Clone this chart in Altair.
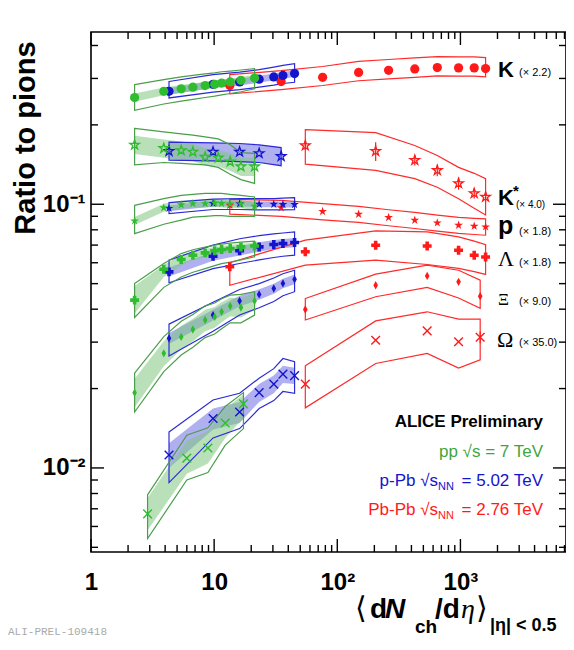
import altair as alt
import pandas as pd

# ---------------- data (ratios to pions, already scaled) ----------------
PP_X = [2.26, 3.90, 5.40, 6.72, 8.45, 10.1, 11.5, 13.5, 16.5, 21.3]
PPB_X = [4.3, 9.8, 16.1, 23.2, 30.5, 36.2, 45.0]
PBPB_X = [13.4, 35, 76, 149, 261, 426, 649, 966, 1294, 1601]

# K (x2.2)
K_PP = [0.254, 0.268, 0.274, 0.278, 0.282, 0.285, 0.288, 0.291, 0.295, 0.301]
K_PP_HI = [0.284, 0.297, 0.304, 0.308, 0.312, 0.315, 0.318, 0.320, 0.323, 0.327]
K_PP_LO = [0.227, 0.240, 0.246, 0.250, 0.254, 0.257, 0.260, 0.263, 0.267, 0.274]
K_PP_BHI = [0.263, 0.277, 0.283, 0.287, 0.291, 0.294, 0.297, 0.300, 0.304, 0.310]
K_PP_BLO = [0.245, 0.259, 0.265, 0.269, 0.273, 0.276, 0.279, 0.282, 0.286, 0.292]
K_PPB = [0.268, 0.285, 0.291, 0.298, 0.304, 0.308, 0.313]
K_PPB_HI = [0.292, 0.310, 0.317, 0.324, 0.331, 0.336, 0.341]
K_PPB_LO = [0.253, 0.266, 0.272, 0.278, 0.283, 0.287, 0.290]
K_PPB_BHI = [0.276, 0.294, 0.300, 0.307, 0.313, 0.317, 0.322]
K_PPB_BLO = [0.260, 0.276, 0.282, 0.289, 0.295, 0.299, 0.304]
K_PBPB = [0.282, 0.292, 0.303, 0.316, 0.322, 0.326, 0.330, 0.329, 0.329, 0.327]
K_PBPB_HI = [0.310, 0.321, 0.333, 0.348, 0.354, 0.359, 0.363, 0.362, 0.362, 0.360]
K_PBPB_LO = [0.262, 0.272, 0.282, 0.294, 0.299, 0.303, 0.307, 0.306, 0.306, 0.304]

# K* (x4.0)
KS_PP_X = [2.26, 3.90, 5.40, 6.72, 8.45, 10.8, 13.5, 16.5, 21.3]
KS_PP = [0.168, 0.163, 0.160, 0.158, 0.151, 0.150, 0.145, 0.139, 0.139]
KS_PP_HI = [0.194, 0.188, 0.185, 0.183, 0.180, 0.177, 0.168, 0.157, 0.156]
KS_PP_LO = [0.141, 0.144, 0.143, 0.142, 0.141, 0.138, 0.130, 0.124, 0.120]
KS_PP_BHI = [0.182, 0.176, 0.173, 0.170, 0.163, 0.161, 0.156, 0.150, 0.150]
KS_PP_BLO = [0.155, 0.150, 0.147, 0.146, 0.140, 0.139, 0.134, 0.128, 0.128]
KS_PPB_X = [4.3, 9.8, 16.1, 23.2, 35.0]
KS_PPB = [0.159, 0.158, 0.158, 0.156, 0.152]
KS_PPB_HI = [0.172, 0.171, 0.170, 0.168, 0.164]
KS_PPB_LO = [0.147, 0.146, 0.145, 0.144, 0.140]
KS_PBPB_X = [55, 205, 426, 649, 966, 1294, 1601]
KS_PBPB = [0.167, 0.159, 0.147, 0.1345, 0.120, 0.110, 0.1066]
KS_PBPB_HI = [0.192, 0.187, 0.167, 0.153, 0.138, 0.131, 0.125]
KS_PBPB_LO = [0.142, 0.1345, 0.125, 0.116, 0.105, 0.0965, 0.091]
KS_PBPB_STAT = [0.0065, 0.013, 0.0066, 0.0067, 0.0065, 0.0048, 0.0047]

# p (x1.8)
P_PP = [0.0865, 0.0970, 0.0996, 0.1006, 0.1006, 0.1011, 0.1007, 0.1003, 0.1002, 0.0983]
P_PP_HI = [0.099, 0.105, 0.108, 0.109, 0.110, 0.110, 0.110, 0.109, 0.108, 0.1066]
P_PP_LO = [0.0774, 0.084, 0.087, 0.0893, 0.090, 0.0905, 0.0905, 0.090, 0.090, 0.090]
P_PP_BHI = [0.0895, 0.1004, 0.1031, 0.1041, 0.1041, 0.1046, 0.1042, 0.1038, 0.1037, 0.1017]
P_PP_BLO = [0.0835, 0.0936, 0.0961, 0.0971, 0.0971, 0.0976, 0.0972, 0.0968, 0.0967, 0.0949]
P_PPB = [0.0965, 0.1008, 0.1005, 0.1000, 0.1000, 0.0998, 0.0998]
P_PPB_HI = [0.1015, 0.1045, 0.105, 0.105, 0.105, 0.1055, 0.106]
P_PPB_LO = [0.0922, 0.0955, 0.0955, 0.0952, 0.0952, 0.0952, 0.0953]
P_PPB_BHI = [0.0990, 0.1035, 0.1030, 0.1025, 0.1025, 0.1023, 0.1023]
P_PPB_BLO = [0.0940, 0.0981, 0.0980, 0.0975, 0.0975, 0.0973, 0.0973]
P_PBPB = [0.0991, 0.0970, 0.0939, 0.0917, 0.0891, 0.0870, 0.0850, 0.0833, 0.0826, 0.0821]
P_PBPB_HI = [0.1044, 0.1035, 0.1005, 0.0981, 0.0953, 0.0931, 0.0910, 0.0891, 0.0884, 0.0880]
P_PBPB_LO = [0.0917, 0.0900, 0.0872, 0.0853, 0.0829, 0.0809, 0.0791, 0.0775, 0.0768, 0.0763]

# Lambda (x1.8)
L_PP = [0.0433, 0.0567, 0.0617, 0.0641, 0.0654, 0.0666, 0.0674, 0.0680, 0.0689, 0.0695]
L_PP_HI = [0.0501, 0.0596, 0.0650, 0.0672, 0.0688, 0.0700, 0.0706, 0.0712, 0.0718, 0.0725]
L_PP_LO = [0.0372, 0.0484, 0.0530, 0.0552, 0.0570, 0.0585, 0.0595, 0.0603, 0.0615, 0.0632]
L_PP_BHI = [0.0490, 0.0590, 0.0640, 0.0662, 0.0676, 0.0688, 0.0695, 0.0700, 0.0708, 0.0714]
L_PP_BLO = [0.0385, 0.0530, 0.0585, 0.0614, 0.0628, 0.0641, 0.0650, 0.0657, 0.0667, 0.0674]
L_PPB = [0.0554, 0.0635, 0.0666, 0.0689, 0.0704, 0.0710, 0.0716]
L_PPB_HI = [0.0614, 0.0700, 0.0740, 0.0760, 0.0772, 0.0778, 0.0785]
L_PPB_LO = [0.0504, 0.0570, 0.0596, 0.0615, 0.0628, 0.0635, 0.0641]
L_PPB_BHI = [0.0576, 0.0660, 0.0693, 0.0717, 0.0732, 0.0738, 0.0745]
L_PPB_BLO = [0.0532, 0.0610, 0.0639, 0.0661, 0.0676, 0.0682, 0.0687]
L_PBPB_X = [13.4, 55, 205, 537, 966, 1294, 1601]
L_PBPB = [0.0579, 0.0660, 0.0699, 0.0695, 0.0669, 0.0641, 0.0631]
L_PBPB_HI = [0.0600, 0.0731, 0.0793, 0.0786, 0.0752, 0.0725, 0.0703]
L_PBPB_LO = [0.0493, 0.0588, 0.0614, 0.0591, 0.0571, 0.0555, 0.0542]

# Xi (x9.0)
XI_PP = [0.0193, 0.0272, 0.0314, 0.0335, 0.0364, 0.0374, 0.0391, 0.0411, 0.0406, 0.0430]
XI_PP_HI = [0.0229, 0.0315, 0.0360, 0.0382, 0.0412, 0.0422, 0.0438, 0.0452, 0.0455, 0.0466]
XI_PP_LO = [0.0163, 0.0232, 0.0268, 0.0287, 0.0312, 0.0322, 0.0337, 0.0355, 0.0355, 0.0380]
XI_PP_BHI = [0.0218, 0.0302, 0.0346, 0.0368, 0.0398, 0.0408, 0.0425, 0.0442, 0.0440, 0.0460]
XI_PP_BLO = [0.0170, 0.0243, 0.0282, 0.0302, 0.0330, 0.0340, 0.0357, 0.0376, 0.0372, 0.0397]
XI_PPB = [0.0310, 0.0380, 0.0430, 0.0455, 0.0479, 0.0501, 0.0519]
XI_PPB_HI = [0.0351, 0.0425, 0.0475, 0.0500, 0.0525, 0.0545, 0.0562]
XI_PPB_LO = [0.0266, 0.0330, 0.0380, 0.0405, 0.0428, 0.0450, 0.0466]
XI_PPB_BHI = [0.0325, 0.0398, 0.0450, 0.0476, 0.0500, 0.0522, 0.0541]
XI_PPB_BLO = [0.0295, 0.0362, 0.0410, 0.0434, 0.0458, 0.0480, 0.0497]
XI_PBPB_X = [55, 205, 537, 966, 1447]
XI_PBPB = [0.0399, 0.0493, 0.0535, 0.0508, 0.0448]
XI_PBPB_HI = [0.0439, 0.0543, 0.0588, 0.0562, 0.0515]
XI_PBPB_LO = [0.0364, 0.0446, 0.0484, 0.0441, 0.0403]

# Omega (x35.0)
OM_PP_X = [2.88, 6.0, 8.9, 12.3, 17.3]
OM_PP = [0.0067, 0.0109, 0.0119, 0.0148, 0.0175]
OM_PP_HI = [0.0079, 0.0133, 0.0142, 0.0171, 0.0193]
OM_PP_LO = [0.0054, 0.0090, 0.0096, 0.0122, 0.0141]
OM_PP_BHI = [0.0077, 0.0127, 0.0138, 0.0168, 0.0190]
OM_PP_BLO = [0.0058, 0.0095, 0.0104, 0.0130, 0.0155]
OM_PPB = [0.0112, 0.0154, 0.0163, 0.0193, 0.0208, 0.0227, 0.0224]
OM_PPB_HI = [0.0137, 0.0181, 0.0192, 0.0219, 0.0238, 0.0260, 0.0253]
OM_PPB_LO = [0.0088, 0.0130, 0.0141, 0.0168, 0.0180, 0.0195, 0.0192]
OM_PPB_BHI = [0.0124, 0.0168, 0.0178, 0.0208, 0.0224, 0.0244, 0.0240]
OM_PPB_BLO = [0.0100, 0.0140, 0.0148, 0.0178, 0.0192, 0.0210, 0.0208]
OM_PBPB_X = [55, 205, 537, 966, 1447]
OM_PBPB = [0.0208, 0.0305, 0.0331, 0.0301, 0.0313]
OM_PBPB_HI = [0.0244, 0.0361, 0.0391, 0.0367, 0.0367]
OM_PBPB_LO = [0.0169, 0.0249, 0.0272, 0.0239, 0.0257]
OM_PBPB_STAT = [0.0, 0.0, 0.0, 0.0, 0.0016]

# axis ticks / labels
X_MAJOR = [1, 10, 100, 1000]
X_MINOR = [m * 10 ** e for e in range(4) for m in range(2, 10) if m * 10 ** e <= 7000]
Y_MAJOR = [0.01, 0.1]
Y_MINOR = [0.005, 0.006, 0.007, 0.008, 0.009, 0.02, 0.03, 0.04, 0.05, 0.06, 0.07,
           0.08, 0.09, 0.2, 0.3, 0.4]

SYSTEMS = ["PbPb", "pPb", "pp"]
MARK_COL = ["#ff1a1a", "#1414cc", "#2ebd2e"]
BOX_COL = ["#ff2a2a", "#2a2ad8", "#4a9e4a"]
BAND_COL = ["#ffffff", "#7070e6", "#80c680"]

W, H = 475, 520
FONT = "Liberation Sans"

# ---------------- build tables ----------------
pts = {}
boxes = []
bands = []
errs = []


def add(species, system, xs, ys, lo, hi, blo=None, bhi=None, stat=None):
    pts.setdefault(species, [])
    for i, (a, b) in enumerate(zip(xs, ys)):
        pts[species].append({"x": a, "y": b, "sys": system})
        boxes.append({"grp": species + system, "sys": system, "x": a, "lo": lo[i], "hi": hi[i]})
        if blo is not None:
            bands.append({"grp": species + system, "sys": system, "x": a, "lo": blo[i], "hi": bhi[i]})
        if stat is not None and stat[i] > 0:
            errs.append({"x": a, "lo": b - stat[i], "hi": b + stat[i], "sys": system})


add("K", "PbPb", PBPB_X, K_PBPB, K_PBPB_LO, K_PBPB_HI)
add("K", "pPb", PPB_X, K_PPB, K_PPB_LO, K_PPB_HI, K_PPB_BLO, K_PPB_BHI)
add("K", "pp", PP_X, K_PP, K_PP_LO, K_PP_HI, K_PP_BLO, K_PP_BHI)
add("Ks", "PbPb", KS_PBPB_X, KS_PBPB, KS_PBPB_LO, KS_PBPB_HI, stat=KS_PBPB_STAT)
add("Ks", "pPb", KS_PPB_X, KS_PPB, KS_PPB_LO, KS_PPB_HI, KS_PPB_LO, KS_PPB_HI)
add("Ks", "pp", KS_PP_X, KS_PP, KS_PP_LO, KS_PP_HI, KS_PP_BLO, KS_PP_BHI)
add("p", "PbPb", PBPB_X, P_PBPB, P_PBPB_LO, P_PBPB_HI)
add("p", "pPb", PPB_X, P_PPB, P_PPB_LO, P_PPB_HI, P_PPB_BLO, P_PPB_BHI)
add("p", "pp", PP_X, P_PP, P_PP_LO, P_PP_HI, P_PP_BLO, P_PP_BHI)
add("L", "PbPb", L_PBPB_X, L_PBPB, L_PBPB_LO, L_PBPB_HI)
add("L", "pPb", PPB_X, L_PPB, L_PPB_LO, L_PPB_HI, L_PPB_BLO, L_PPB_BHI)
add("L", "pp", PP_X, L_PP, L_PP_LO, L_PP_HI, L_PP_BLO, L_PP_BHI)
add("Xi", "PbPb", XI_PBPB_X, XI_PBPB, XI_PBPB_LO, XI_PBPB_HI)
add("Xi", "pPb", PPB_X, XI_PPB, XI_PPB_LO, XI_PPB_HI, XI_PPB_BLO, XI_PPB_BHI)
add("Xi", "pp", PP_X, XI_PP, XI_PP_LO, XI_PP_HI, XI_PP_BLO, XI_PP_BHI)
add("Om", "PbPb", OM_PBPB_X, OM_PBPB, OM_PBPB_LO, OM_PBPB_HI, stat=OM_PBPB_STAT)
add("Om", "pPb", PPB_X, OM_PPB, OM_PPB_LO, OM_PPB_HI, OM_PPB_BLO, OM_PPB_BHI)
add("Om", "pp", OM_PP_X, OM_PP, OM_PP_LO, OM_PP_HI, OM_PP_BLO, OM_PP_BHI)

# ---------------- encodings ----------------
SX = alt.Scale(type="log", domain=[1, 7200], nice=False)
SY = alt.Scale(type="log", domain=[0.0048, 0.45], nice=False)
AXX = alt.Axis(values=X_MAJOR, ticks=False, tickSize=0, domain=False, grid=False,
               labelExpr="datum.value == 1 ? '1' : datum.value == 10 ? '10' : datum.value == 100 ? '10²' : '10³'",
               labelFont=FONT, labelFontWeight="bold", labelFontSize=24, labelColor="black",
               labelPadding=18, labelFlush=False, labelOverlap=False, title=None)
AXY = alt.Axis(values=Y_MAJOR, ticks=False, tickSize=0, domain=False, grid=False,
               labelExpr="datum.value < 0.05 ? '10⁻²' : '10⁻¹'",
               labelFont=FONT, labelFontWeight="bold", labelFontSize=24, labelColor="black",
               labelPadding=6, labelFlush=False, labelOverlap=False, title=None)


def X(f="x"):
    return alt.X(f + ":Q", scale=SX, axis=AXX)


def Y(f="y"):
    return alt.Y(f + ":Q", scale=SY, axis=AXY)


def col(rng):
    return alt.Color("sys:N", scale=alt.Scale(domain=SYSTEMS, range=rng), legend=None)


def fcol(rng):
    return alt.Fill("sys:N", scale=alt.Scale(domain=SYSTEMS, range=rng), legend=None)


def scol(rng):
    return alt.Stroke("sys:N", scale=alt.Scale(domain=SYSTEMS, range=rng), legend=None)


layers = []

band_df = pd.DataFrame(bands)
layers.append(alt.Chart(band_df).mark_area(fillOpacity=0.55, strokeWidth=0).encode(
    x=X(), y=Y("hi"), y2="lo:Q", fill=fcol(BAND_COL), detail="grp:N"))

box_df = pd.DataFrame(boxes)
layers.append(alt.Chart(box_df).mark_area(fillOpacity=0, strokeWidth=1.2).encode(
    x=X(), y=Y("hi"), y2="lo:Q", stroke=scol(BOX_COL), detail="grp:N"))

err_df = pd.DataFrame(errs)
layers.append(alt.Chart(err_df).mark_rule(strokeWidth=1.2).encode(
    x=X(), y=Y("lo"), y2="hi:Q", color=col(MARK_COL)))

STAR = ("M0,-1L0.2245,-0.309L0.951,-0.309L0.363,0.118L0.588,0.809L0,0.382"
        "L-0.588,0.809L-0.363,0.118L-0.951,-0.309L-0.2245,-0.309Z")
DIAM = "M0,-1L0.55,0L0,1L-0.55,0Z"
XMARK = "M-1,-1L1,1M-1,1L1,-1"
STYLE = {
    "K": dict(shape="circle", filled=True, size=85),
    "Ks": dict(shape=STAR, filled=False, size=100, strokeWidth=1.3),
    "p": dict(shape=STAR, filled=True, size=85),
    "L": dict(shape="cross", filled=True, size=80),
    "Xi": dict(shape=DIAM, filled=True, size=70),
    "Om": dict(shape=XMARK, filled=False, size=75, strokeWidth=1.4),
}
for sp, st in STYLE.items():
    df = pd.DataFrame(pts[sp])
    layers.append(alt.Chart(df).mark_point(opacity=1, **st).encode(
        x=X(), y=Y(), color=col(MARK_COL)))


# frame ticks (inward, ROOT style)
def xticks(vals, L):
    d = pd.DataFrame({"x": vals})
    return [alt.Chart(d).mark_rule(color="black", strokeWidth=1.4).encode(
                x=X(), y=alt.value(H - L), y2=alt.value(H)),
            alt.Chart(d).mark_rule(color="black", strokeWidth=1.4).encode(
                x=X(), y=alt.value(0), y2=alt.value(L))]


def yticks(vals, L):
    d = pd.DataFrame({"y": vals})
    return [alt.Chart(d).mark_rule(color="black", strokeWidth=1.4).encode(
                y=Y(), x=alt.value(0), x2=alt.value(L)),
            alt.Chart(d).mark_rule(color="black", strokeWidth=1.4).encode(
                y=Y(), x=alt.value(W - L), x2=alt.value(W))]


layers += xticks(X_MAJOR, 13) + xticks(X_MINOR, 7) + yticks(Y_MAJOR, 13) + yticks(Y_MINOR, 7)


# ---------------- text annotations ----------------
def txt(s, x, y, size, color="black", weight="normal", font=FONT, align="left",
        style="normal", angle=0, baseline="alphabetic"):
    d = pd.DataFrame({"t": [s]})
    return alt.Chart(d).mark_text(
        align=align, baseline=baseline, fontSize=size, fontWeight=weight, font=font,
        fontStyle=style, color=color, angle=angle).encode(
        x=alt.value(x), y=alt.value(y), text="t:N")


SERIF = "Liberation Serif"
layers += [
    txt("K", 407, 45, 22, weight="bold"),
    txt("(× 2.2)", 428, 44, 11),
    txt("K", 407, 173, 22, weight="bold"),
    txt("*", 422, 164, 15, weight="bold"),
    txt("(× 4.0)", 425, 176, 10),
    txt("p", 407, 202, 25, weight="bold"),
    txt("(× 1.8)", 428, 203, 11),
    txt("Λ", 407, 234, 22, font=SERIF),
    txt("(× 1.8)", 428, 234, 11),
    txt("Ξ", 407, 273, 17, font=SERIF),
    txt("(× 9.0)", 428, 273, 11),
    txt("Ω", 406, 315, 22, font=SERIF),
    txt("(× 35.0)", 428, 314, 11),
    # legend
    txt("ALICE Preliminary", 452, 395, 17, weight="bold", align="right"),
    txt("pp  √s = 7 TeV", 452, 425, 17, color="#3fa53f", align="right"),
    txt(" = 5.02 TeV", 452, 454, 17, color="#1414cc", align="right"),
    txt("NN", 363, 458, 11, color="#1414cc", align="right"),
    txt("p-Pb  √s", 347, 454, 17, color="#1414cc", align="right"),
    txt(" = 2.76 TeV", 452, 483, 17, color="#ff1a1a", align="right"),
    txt("NN", 363, 487, 11, color="#ff1a1a", align="right"),
    txt("Pb-Pb  √s", 347, 483, 17, color="#ff1a1a", align="right"),
    # axis titles
    txt("Ratio to pions", -65, 106, 29, weight="bold", align="center", angle=270,
        baseline="middle"),
    txt("⟨", 264, 586, 30, font="DejaVu Sans"),
    txt("d", 279, 586, 28, weight="bold"),
    txt("N", 294, 586, 28, weight="bold", style="italic"),
    txt("ch", 324, 601, 19, weight="bold"),
    txt("/d", 344, 586, 28, weight="bold"),
    txt("η", 370, 586, 28, font=SERIF, style="italic"),
    txt("⟩", 385, 586, 30, font="DejaVu Sans"),
    txt("|η| < 0.5", 399, 599, 18, weight="bold"),
    txt("ALI-PREL-109418", -83, 603, 11, color="#aaaaaa", font="Liberation Mono"),
]

chart = alt.layer(*layers).properties(
    width=W, height=H,
    padding={"left": 83, "top": 24, "right": 0, "bottom": 86},
    autosize=alt.AutoSizeParams(type="none"),
).configure_view(stroke="black", strokeWidth=1.6)

chart.save("out.html", embed_options={"renderer": "svg", "actions": False})
